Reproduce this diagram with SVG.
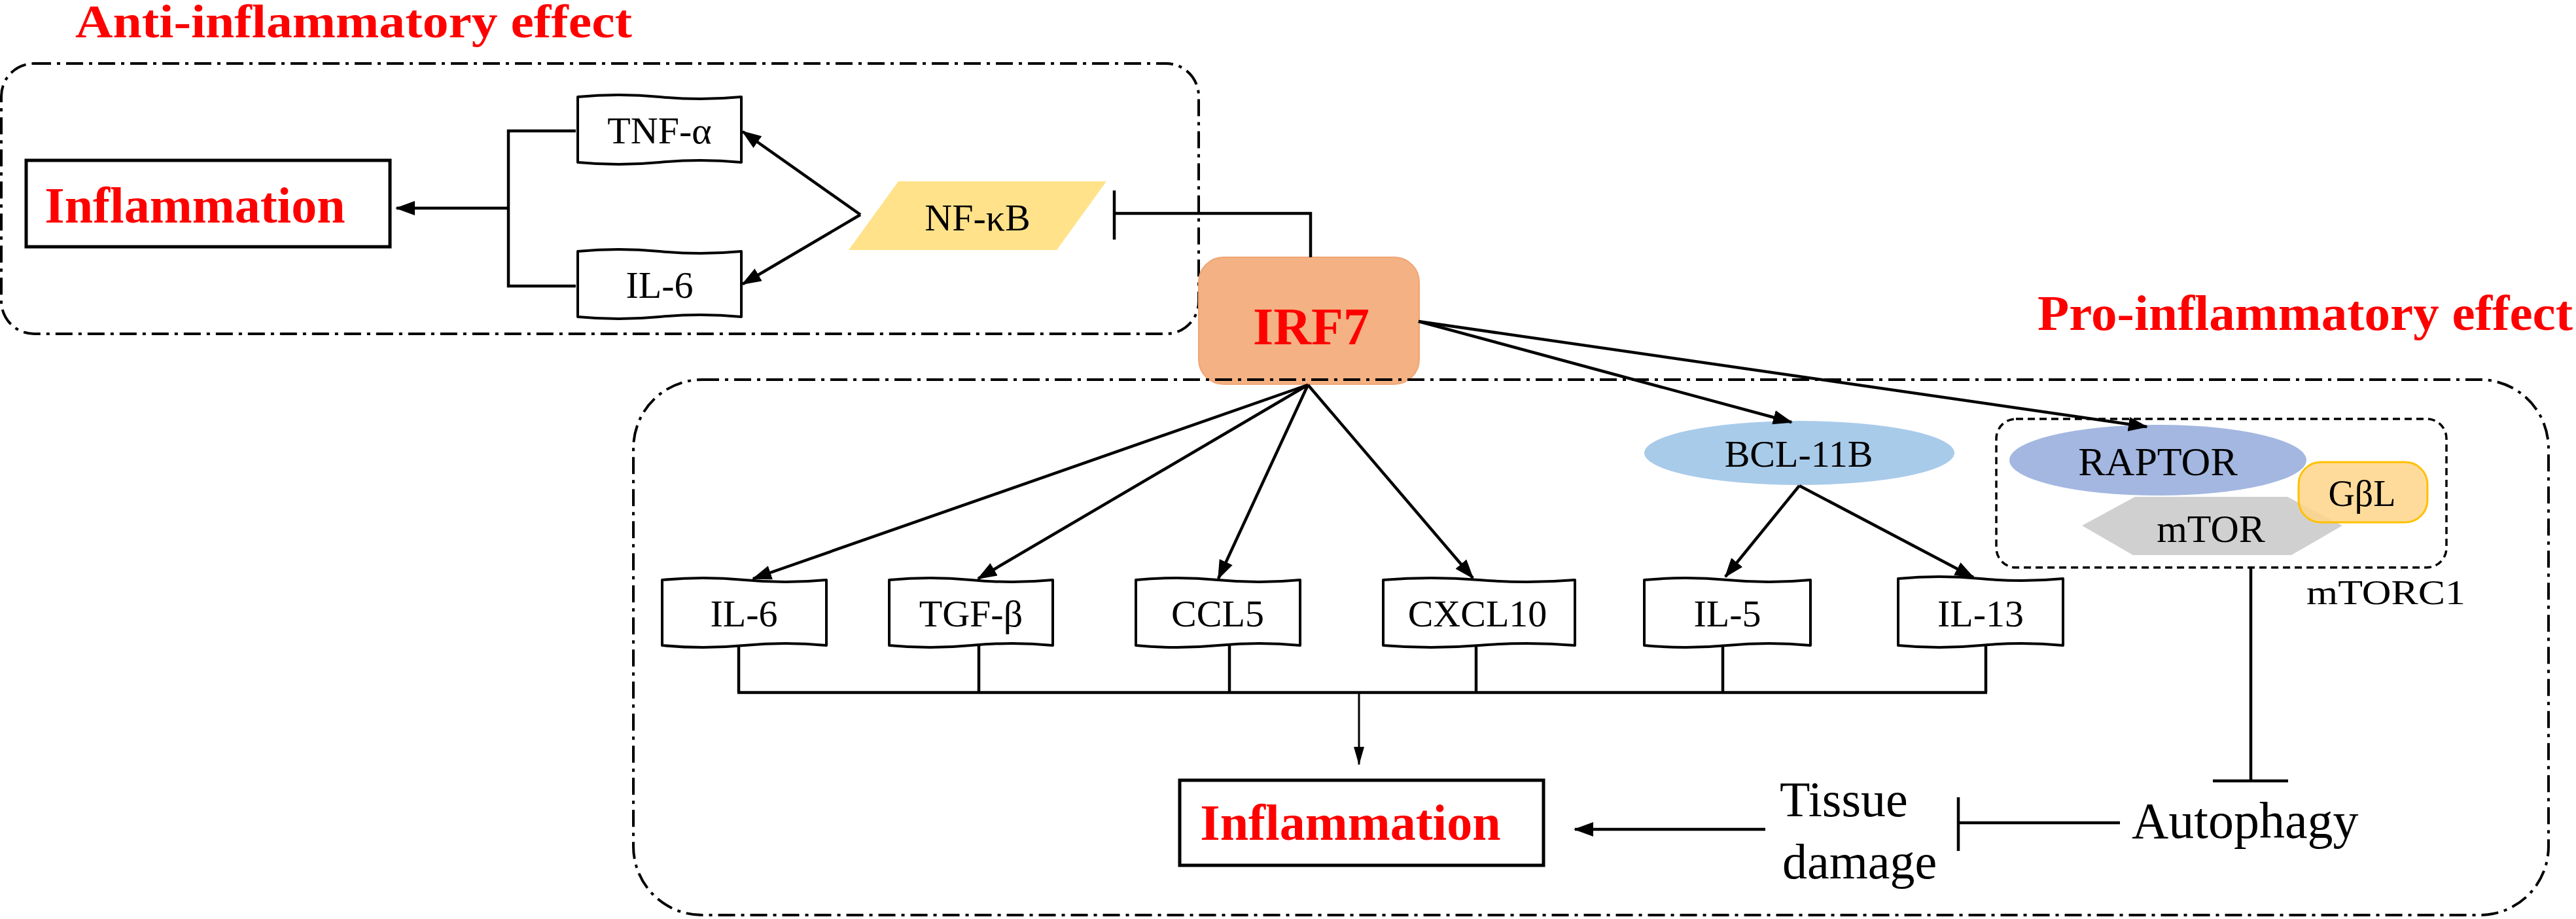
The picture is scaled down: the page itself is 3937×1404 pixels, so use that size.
<svg xmlns="http://www.w3.org/2000/svg" width="3937" height="1404" viewBox="0 0 3937 1404">
<style>
.t{font-family:"Liberation Serif","Times New Roman",serif;fill:#000}
.red{font-family:"Liberation Serif","Times New Roman",serif;font-weight:bold;fill:#FF0000}
.box{fill:#fff;stroke:#000;stroke-width:4;stroke-linejoin:round}
.grp{fill:none;stroke:#000;stroke-width:4;stroke-dasharray:26 9 5 9}
.ln{fill:none;stroke:#000;stroke-width:4.5}
.arr{fill:none;stroke:#000;stroke-width:4.5;marker-end:url(#ah)}
</style>
<defs>
<marker id="ah" viewBox="0 0 30 22" refX="28" refY="11" markerWidth="30" markerHeight="22" markerUnits="userSpaceOnUse" orient="auto">
<path d="M0,0 L30,11 L0,22 Z" fill="#000"/>
</marker>
<marker id="ahs" viewBox="0 0 28 16" refX="27" refY="8" markerWidth="28" markerHeight="16" markerUnits="userSpaceOnUse" orient="auto">
<path d="M0,0 L28,8 L0,16 Z" fill="#000"/>
</marker>
</defs>
<rect width="3937" height="1404" fill="#fff"/>

<g id="titles">
<text class="red" x="115" y="57" font-size="72" textLength="851" lengthAdjust="spacingAndGlyphs">Anti-inflammatory effect</text>
<text class="red" x="3114" y="504" font-size="76" textLength="818" lengthAdjust="spacingAndGlyphs">Pro-inflammatory effect</text>
</g>

<g id="group-anti">
<rect class="grp" x="2" y="97" width="1830" height="413" rx="50" ry="50"/>
</g>

<g id="irf7">
<rect x="1832" y="393" width="337" height="194" rx="38" ry="38" fill="#F4B183" stroke="#EFA574" stroke-width="2"/>
<text class="red" x="2004" y="526" font-size="80" text-anchor="middle">IRF7</text>
</g>

<g id="group-pro">
<rect class="grp" x="968" y="580" width="2927" height="818" rx="105" ry="105"/>
</g>

<g id="inflammation-left">
<rect x="40" y="245" width="556" height="132" fill="#fff" stroke="#000" stroke-width="5"/>
<text class="red" x="298" y="340" font-size="78" text-anchor="middle">Inflammation</text>
</g>

<g id="tnf-alpha">
<path class="box" d="M883,148 Q945.5,142 1008,148 T1133,148 L1133,248 Q1070.5,242 1008,248 T883,248 Z"/>
<text class="t" x="1008" y="219" font-size="58" text-anchor="middle">TNF-α</text>
</g>

<g id="il6-left">
<path class="box" d="M883,384 Q945.5,378 1008,384 T1133,384 L1133,484 Q1070.5,478 1008,484 T883,484 Z"/>
<text class="t" x="1008" y="455" font-size="58" text-anchor="middle">IL-6</text>
</g>

<g id="nfkb">
<polygon points="1373,277 1691,277 1615,382 1297,382" fill="#FFE28A"/>
<text class="t" x="1494" y="352" font-size="58" text-anchor="middle">NF-κB</text>
</g>

<g id="il6">
<path class="box" d="M1012,886 Q1074.75,880 1137.5,886 T1263,886 L1263,986 Q1200.25,980 1137.5,986 T1012,986 Z"/>
<text class="t" x="1137" y="957" font-size="58" text-anchor="middle">IL-6</text>
</g>
<g id="tgf-beta">
<path class="box" d="M1359,886 Q1421.5,880 1484,886 T1609,886 L1609,986 Q1546.5,980 1484,986 T1359,986 Z"/>
<text class="t" x="1484" y="957" font-size="58" text-anchor="middle">TGF-β</text>
</g>
<g id="ccl5">
<path class="box" d="M1736,886 Q1798.75,880 1861.5,886 T1987,886 L1987,986 Q1924.25,980 1861.5,986 T1736,986 Z"/>
<text class="t" x="1861" y="957" font-size="58" text-anchor="middle">CCL5</text>
</g>
<g id="cxcl10">
<path class="box" d="M2114,886 Q2187.25,880 2260.5,886 T2407,886 L2407,986 Q2333.75,980 2260.5,986 T2114,986 Z"/>
<text class="t" x="2258" y="957" font-size="58" text-anchor="middle">CXCL10</text>
</g>
<g id="il5">
<path class="box" d="M2513,886 Q2576.5,880 2640,886 T2767,886 L2767,986 Q2703.5,980 2640,986 T2513,986 Z"/>
<text class="t" x="2640" y="957" font-size="58" text-anchor="middle">IL-5</text>
</g>
<g id="il13">
<path class="box" d="M2901,884 Q2964,878 3027,884 T3153,884 L3153,986 Q3090,980 3027,986 T2901,986 Z"/>
<text class="t" x="3027" y="957" font-size="58" text-anchor="middle">IL-13</text>
</g>

<g id="bcl11b">
<ellipse cx="2750" cy="692" rx="237" ry="49" fill="#A9CBEA"/>
<text class="t" x="2749" y="713" font-size="58" text-anchor="middle">BCL-11B</text>
</g>

<g id="mtorc1">
<rect x="3051" y="640" width="688" height="227" rx="30" ry="30" fill="none" stroke="#000" stroke-width="3.5" stroke-dasharray="11 7"/>
<polygon points="3182,803 3263,759 3496,759 3580,803 3502,848 3260,848" fill="#D0D0D0"/>
<ellipse cx="3298" cy="703" rx="227" ry="54" fill="#A3B7E0"/>
<rect x="3513" y="706" width="197" height="92" rx="34" ry="34" fill="#FFD58A" fill-opacity="0.85" stroke="#FFC000" stroke-width="3"/>
<text class="t" x="3298" y="726" font-size="62" text-anchor="middle">RAPTOR</text>
<text class="t" x="3379" y="828" font-size="60" text-anchor="middle">mTOR</text>
<text class="t" x="3610" y="773" font-size="56" text-anchor="middle">GβL</text>
<text class="t" x="3525" y="923" font-size="52" textLength="243" lengthAdjust="spacingAndGlyphs">mTORC1</text>
</g>

<g id="inflammation-bottom">
<rect x="1803" y="1192" width="556" height="130" fill="#fff" stroke="#000" stroke-width="5"/>
<text class="red" x="2064" y="1283" font-size="78" text-anchor="middle">Inflammation</text>
</g>

<g id="tissue-damage">
<text class="t" x="2720" y="1247" font-size="76">Tissue</text>
<text class="t" x="2724" y="1342" font-size="76">damage</text>
</g>

<g id="autophagy">
<text class="t" x="3258" y="1280" font-size="78">Autophagy</text>
</g>

<g id="connectors">
<polyline class="ln" points="880,200 777,200 777,437 880,437"/>
<line class="arr" x1="777" y1="318" x2="606" y2="318" stroke-width="5"/>
<line class="arr" x1="1315" y1="328" x2="1135" y2="201"/>
<line class="arr" x1="1315" y1="328" x2="1135" y2="434"/>
<polyline class="ln" points="2003,393 2003,326 1703,326" stroke-width="5"/>
<line class="ln" x1="1703" y1="291" x2="1703" y2="366" stroke-width="4"/>
<line class="arr" x1="1999" y1="588" x2="1151" y2="884" stroke-width="5"/>
<line class="arr" x1="1999" y1="588" x2="1495" y2="884"/>
<line class="arr" x1="1999" y1="588" x2="1862" y2="884" stroke-width="4"/>
<line class="arr" x1="1999" y1="588" x2="2251" y2="883" stroke-width="4"/>
<line class="arr" x1="2168" y1="491" x2="2738" y2="645"/>
<line class="arr" x1="2168" y1="491" x2="3281" y2="652" stroke-width="5"/>
<line class="arr" x1="2750" y1="742" x2="2637" y2="881" stroke-width="4"/>
<line class="arr" x1="2750" y1="742" x2="3016" y2="882" stroke-width="4"/>
<line class="ln" x1="1129" y1="986" x2="1129" y2="1058" stroke-width="3.5"/>
<line class="ln" x1="1496" y1="986" x2="1496" y2="1058" stroke-width="3.5"/>
<line class="ln" x1="1879" y1="986" x2="1879" y2="1058" stroke-width="3.5"/>
<line class="ln" x1="2256" y1="986" x2="2256" y2="1058" stroke-width="3.5"/>
<line class="ln" x1="2633" y1="986" x2="2633" y2="1058" stroke-width="3.5"/>
<line class="ln" x1="3035" y1="986" x2="3035" y2="1058" stroke-width="3.5"/>
<line class="ln" x1="1127" y1="1058" x2="3037" y2="1058" stroke-width="6"/>
<line x1="2077" y1="1058" x2="2077" y2="1168" stroke="#000" stroke-width="3" marker-end="url(#ahs)"/>
<line class="ln" x1="3440" y1="867" x2="3440" y2="1193" stroke-width="4"/>
<line class="ln" x1="3382" y1="1193" x2="3497" y2="1193" stroke-width="6"/>
<line class="ln" x1="3240" y1="1257" x2="2993" y2="1257" stroke-width="6"/>
<line class="ln" x1="2993" y1="1218" x2="2993" y2="1300" stroke-width="3.5"/>
<line class="arr" x1="2698" y1="1267" x2="2407" y2="1267" stroke-width="6"/>
</g>
</svg>
